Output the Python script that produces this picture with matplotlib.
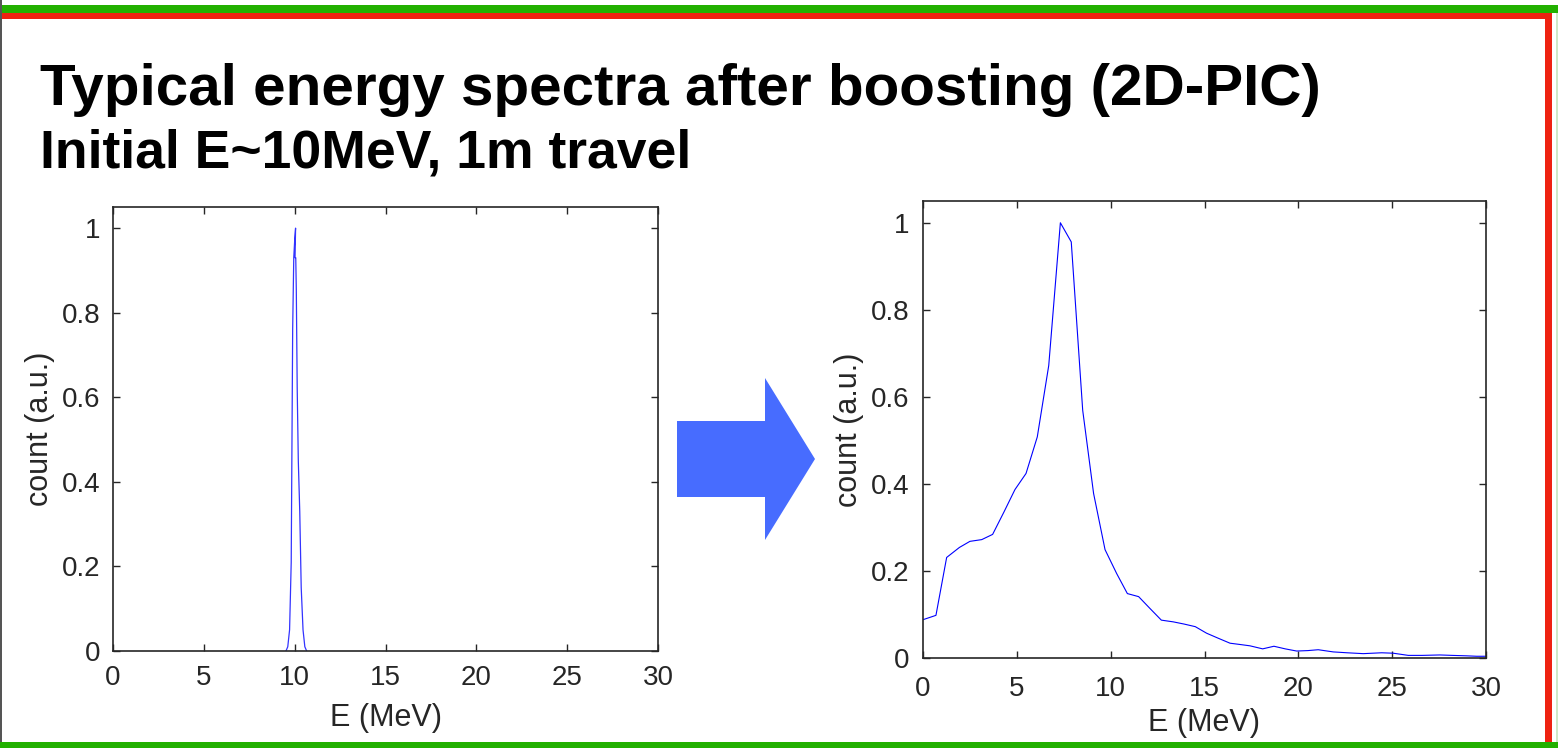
import matplotlib
matplotlib.use("Agg")
import matplotlib.pyplot as plt
from matplotlib.patches import Polygon, Rectangle

plt.rcParams['font.family'] = ['Liberation Sans', 'DejaVu Sans']

W, H = 1558, 748

# ---------------- data ----------------
title_line1 = "Typical energy spectra after boosting (2D-PIC)"
title_line2 = "Initial E~10MeV, 1m travel"
x_label = "E (MeV)"
y_label = "count (a.u.)"
x_ticks = [0, 5, 10, 15, 20, 25, 30]
y_ticks = [0, 0.2, 0.4, 0.6, 0.8, 1]
y_tick_labels = ["0", "0.2", "0.4", "0.6", "0.8", "1"]

# initial spectrum (narrow peak near 10 MeV)
E_init = [9.52, 9.62, 9.72, 9.81, 9.89, 9.95, 10.0, 10.05, 10.02, 10.06,
          10.09, 10.14, 10.20, 10.28, 10.36, 10.46, 10.56, 10.66]
count_init = [0.0, 0.01, 0.05, 0.21, 0.76, 0.93, 0.97, 1.0, 0.93, 0.93,
              0.855, 0.62, 0.45, 0.33, 0.15, 0.05, 0.01, 0.0]

# spectrum after boosting
E_boost = [0.0, 0.69, 1.26, 1.94, 2.5, 3.13, 3.71, 4.32, 4.9, 5.49, 6.09,
           6.7, 7.32, 7.9, 8.51, 9.09, 9.7, 10.32, 10.89, 11.49, 12.09,
           12.7, 13.34, 13.91, 14.51, 15.11, 15.7, 16.36, 16.9, 17.42,
           18.1, 18.7, 19.3, 19.91, 20.5, 21.06, 21.86, 22.6, 23.46, 24.44,
           25.06, 25.86, 26.6, 27.54, 28.2, 28.96, 29.5, 30.0]
count_boost = [0.088, 0.098, 0.231, 0.254, 0.268, 0.272, 0.284, 0.336, 0.387,
               0.424, 0.508, 0.672, 1.0, 0.956, 0.569, 0.378, 0.249, 0.194,
               0.148, 0.141, 0.114, 0.087, 0.083, 0.078, 0.072, 0.057, 0.046,
               0.034, 0.031, 0.028, 0.021, 0.027, 0.021, 0.016, 0.017, 0.019,
               0.014, 0.012, 0.010, 0.012, 0.011, 0.006, 0.006, 0.007, 0.006,
               0.005, 0.004, 0.004]

# ---------------- figure ----------------
fig = plt.figure(figsize=(W / 100, H / 100), dpi=100)
fig.patch.set_facecolor("white")

def px_axes(left, top, right, bottom):
    return fig.add_axes([left / W, 1 - bottom / H, (right - left) / W, (bottom - top) / H])

spine_col = "#262626"
tick_col = "#262626"

def style(ax, xpad, ypad, xlabpad, ylabpad):
    ax.set_xlim(0, 30)
    ax.set_ylim(0, 1.05)
    ax.set_xticks(x_ticks)
    ax.set_xticklabels([str(t) for t in x_ticks])
    ax.set_yticks(y_ticks)
    ax.set_yticklabels(y_tick_labels)
    for s in ax.spines.values():
        s.set_color(spine_col)
        s.set_linewidth(1.2)
    ax.tick_params(direction="in", length=5, width=1.0, color=spine_col,
                   top=True, right=True, labelsize=20, labelcolor=tick_col)
    ax.tick_params(axis="x", pad=xpad)
    ax.tick_params(axis="y", pad=ypad)
    ax.set_xlabel(x_label, fontsize=22, color=tick_col, labelpad=xlabpad)
    ax.set_ylabel(y_label, fontsize=22, color=tick_col, labelpad=ylabpad)

ax1 = px_axes(113, 207, 658, 651)
ax1.plot(E_init, count_init, color="blue", lw=0.9, alpha=0.8)
style(ax1, 10, 9, 9, 5)

ax2 = px_axes(923, 201, 1486, 658)
ax2.plot(E_boost, count_boost, color="blue", lw=0.8)
style(ax2, 13, 10, 4, 5)

# ---------------- decorations (slide frame, arrow) ----------------
def fig_rect(x0, y0, x1, y1, color):
    fig.patches.append(Rectangle((x0 / W, 1 - y1 / H), (x1 - x0) / W, (y1 - y0) / H,
                                 transform=fig.transFigure, facecolor=color,
                                 edgecolor="none", zorder=0))

green = "#22b000"
red = "#ee2211"
fig_rect(0, 5, W, 13, green)
fig_rect(0, 13, 1552, 19, red)
fig_rect(1545, 13, 1552, H, red)
fig_rect(0, 742, W, H, green)
fig_rect(1556, 13, 1558, 742, "#cfe8c8")
fig_rect(0, 0, 2, 742, "#555555")

arrow_px = [(677, 421), (765, 421), (765, 378), (815, 459), (765, 540),
            (765, 497), (677, 497)]
fig.patches.append(Polygon([(x / W, 1 - y / H) for x, y in arrow_px], closed=True,
                           transform=fig.transFigure, facecolor="#476cff",
                           edgecolor="none"))

fig.text(40 / W, 1 - 105 / H, title_line1, fontsize=42, fontweight="bold",
         va="baseline", ha="left", color="black")
fig.text(40 / W, 1 - 168 / H, title_line2, fontsize=38.5, fontweight="bold",
         va="baseline", ha="left", color="black")

fig.savefig("out.png", dpi=100)
